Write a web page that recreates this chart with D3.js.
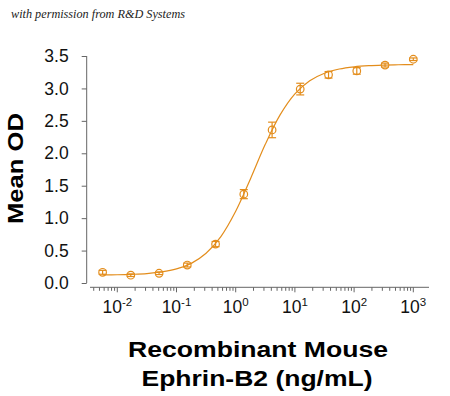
<!DOCTYPE html>
<html>
<head>
<meta charset="utf-8">
<script src="https://cdn.jsdelivr.net/npm/d3@7"></script>
<style>
  body { margin: 0; background: #fff; }
  svg { display: block; }
  .note { font-family: "Liberation Serif", "DejaVu Serif", serif; font-style: italic; font-size: 13px; fill: #222; }
  .tick-label { font-family: "Liberation Sans", Arial, sans-serif; font-size: 17.5px; fill: #111; }
  .axis-title { font-family: "Liberation Sans", Arial, sans-serif; font-size: 22px; font-weight: bold; fill: #000; }
</style>
</head>
<body>
<svg id="chart" width="450" height="396"></svg>
<script>
// dilution series, ng/mL
const concentrations = [0.00565, 0.0169, 0.0508, 0.152, 0.457, 1.37, 4.12, 12.3, 37, 111, 333, 1000];
const meanOD = [0.165, 0.12, 0.15, 0.277, 0.60, 1.37, 2.36, 2.99, 3.21, 3.27, 3.36, 3.45];
const errOD = [0.03, 0.02, 0.02, 0.03, 0.04, 0.07, 0.12, 0.09, 0.05, 0.05, 0.03, 0.02];

// fitted curve
const fitConc = [0.00565, 0.01, 0.0178, 0.0316, 0.0562, 0.1, 0.178, 0.316, 0.562, 1, 1.78, 3.16, 5.62, 10, 17.8, 31.6, 56.2, 100, 178, 316, 562, 1000];
const fitOD = [0.124, 0.127, 0.134, 0.146, 0.171, 0.217, 0.303, 0.458, 0.716, 1.106, 1.608, 2.138, 2.592, 2.916, 3.119, 3.235, 3.299, 3.333, 3.351, 3.360, 3.365, 3.367];

const yTicks = [0, 0.5, 1, 1.5, 2, 2.5, 3, 3.5];
const decades = [-2, -1, 0, 1, 2, 3];

const orange = '#e38d1c';
const axisColor = '#666';

const svg = d3.select('#chart');

const x = d3.scaleLog()
    .domain([0.00346, 1841])
    .range([90, 429]);

const y = d3.scaleLinear()
    .domain([0, 3.5])
    .range([283, 56]);

svg.append('text')
    .attr('class', 'note')
    .attr('x', 11)
    .attr('y', 18)
    .attr('textLength', 174)
    .attr('lengthAdjust', 'spacingAndGlyphs')
    .text('with permission from R&D Systems');

// y axis
const yAxis = svg.append('g')
    .attr('transform', 'translate(86.7,0)')
    .call(d3.axisLeft(y).tickValues(yTicks).tickSize(5).tickPadding(13).tickFormat(d3.format('.1f')));
yAxis.select('.domain').attr('stroke', axisColor).attr('d', 'M0,' + y(3.5) + 'V' + y(0));
yAxis.selectAll('.tick line').attr('stroke', axisColor);
yAxis.selectAll('.tick text').attr('class', 'tick-label').attr('font-size', null).attr('font-family', null);
yAxis.attr('font-size', null).attr('font-family', null);

// x axis, minor ticks 2..9 in each decade
let minor = [];
for (let e = -3; e <= 3; e++) {
    for (let m = 2; m <= 9; m++) {
        const v = m * Math.pow(10, e);
        if (v >= x.domain()[0] && v <= x.domain()[1]) minor.push(v);
    }
}
const xg = svg.append('g').attr('transform', 'translate(0,287.3)');
xg.append('line')
    .attr('x1', x.range()[0]).attr('x2', x.range()[1])
    .attr('stroke', axisColor);
xg.selectAll('.minor')
    .data(minor)
    .enter()
    .append('line')
    .attr('x1', d => x(d)).attr('x2', d => x(d))
    .attr('y1', 0).attr('y2', 3.5)
    .attr('stroke', axisColor);
xg.selectAll('.major')
    .data(decades)
    .enter()
    .append('line')
    .attr('x1', d => x(Math.pow(10, d))).attr('x2', d => x(Math.pow(10, d)))
    .attr('y1', 0).attr('y2', 5)
    .attr('stroke', axisColor);

const labels = xg.selectAll('.xl')
    .data(decades)
    .enter()
    .append('text')
    .attr('class', 'tick-label')
    .attr('text-anchor', 'middle')
    .attr('x', d => x(Math.pow(10, d)))
    .attr('y', 26);
labels.append('tspan').text('10');
labels.append('tspan')
    .attr('dy', -7)
    .attr('font-size', 11.5)
    .text(d => d < 0 ? '-' + Math.abs(d) : d);

// axis titles
svg.append('text')
    .attr('class', 'axis-title')
    .attr('transform', 'translate(23,168.5) rotate(-90)')
    .attr('text-anchor', 'middle')
    .attr('textLength', 111)
    .attr('lengthAdjust', 'spacingAndGlyphs')
    .text('Mean OD');

svg.append('text')
    .attr('class', 'axis-title')
    .attr('text-anchor', 'middle')
    .attr('x', 258)
    .attr('y', 357)
    .attr('textLength', 260)
    .attr('lengthAdjust', 'spacingAndGlyphs')
    .text('Recombinant Mouse');
svg.append('text')
    .attr('class', 'axis-title')
    .attr('text-anchor', 'middle')
    .attr('x', 257)
    .attr('y', 386)
    .attr('textLength', 231)
    .attr('lengthAdjust', 'spacingAndGlyphs')
    .text('Ephrin-B2 (ng/mL)');

// fit curve
const fit = fitConc.map((c, i) => ({c: c, od: fitOD[i]}));
const line = d3.line()
    .x(d => x(d.c))
    .y(d => y(d.od))
    .curve(d3.curveCatmullRom);
svg.append('path')
    .datum(fit)
    .attr('d', line)
    .attr('fill', 'none')
    .attr('stroke', orange)
    .attr('stroke-width', 1.2);

// points with error bars
const points = concentrations.map((c, i) => ({c: c, od: meanOD[i], err: errOD[i]}));
const pg = svg.selectAll('.pt')
    .data(points)
    .enter()
    .append('g')
    .attr('stroke', orange)
    .attr('stroke-width', 1.2)
    .attr('fill', 'none');
pg.append('line')
    .attr('x1', d => x(d.c)).attr('x2', d => x(d.c))
    .attr('y1', d => y(d.od - d.err)).attr('y2', d => y(d.od + d.err));
pg.append('line')
    .attr('x1', d => x(d.c) - 4).attr('x2', d => x(d.c) + 4)
    .attr('y1', d => y(d.od + d.err)).attr('y2', d => y(d.od + d.err));
pg.append('line')
    .attr('x1', d => x(d.c) - 4).attr('x2', d => x(d.c) + 4)
    .attr('y1', d => y(d.od - d.err)).attr('y2', d => y(d.od - d.err));
pg.append('circle')
    .attr('cx', d => x(d.c))
    .attr('cy', d => y(d.od))
    .attr('r', 3.8);
</script>
</body>
</html>
